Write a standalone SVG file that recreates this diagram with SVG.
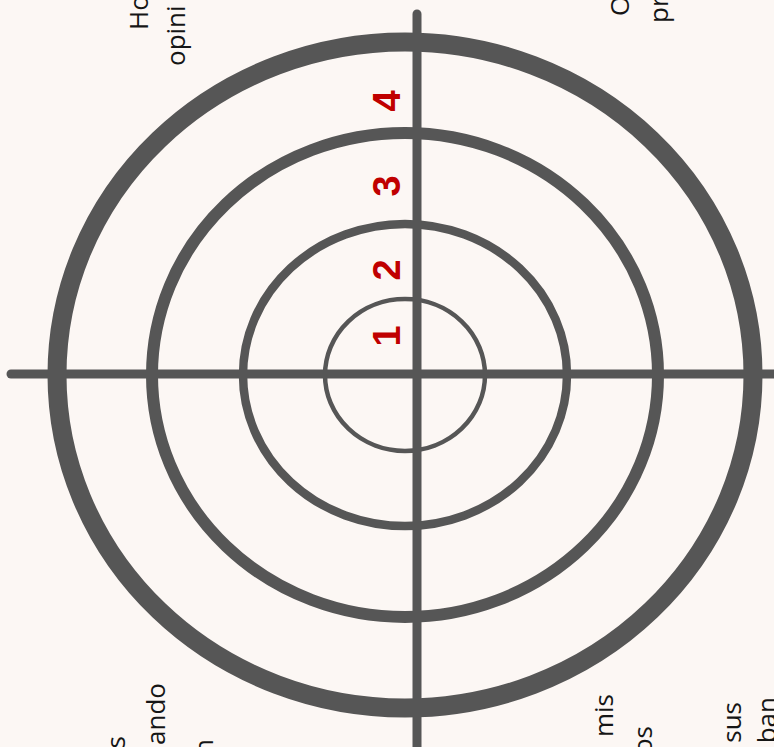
<svg xmlns="http://www.w3.org/2000/svg" width="774" height="747" viewBox="0 0 774 747">
  <style>
    .ring { fill: none; stroke: #565656; }
    .axis { stroke: #565656; stroke-width: 9; stroke-linecap: round; }
    .num { font-family: "Liberation Sans", Arial, sans-serif; font-weight: bold; font-size: 38px; fill: #c00000; text-anchor: middle; }
    .lbl { font-family: "Open Sans", "Liberation Sans", sans-serif; font-size: 26px; fill: #151515; }
  </style>
  <rect width="774" height="747" fill="#fcf7f4"/>
  <g id="rings">
    <ellipse id="ring4" class="ring" cx="405" cy="375" rx="348" ry="333" stroke-width="19"/>
    <ellipse id="ring3" class="ring" cx="405" cy="375" rx="253" ry="242" stroke-width="12"/>
    <ellipse id="ring2" class="ring" cx="405" cy="375" rx="162" ry="151" stroke-width="8.5"/>
    <ellipse id="ring1" class="ring" cx="405" cy="375" rx="80" ry="76" stroke-width="4.5"/>
  </g>
  <g id="axes">
    <line class="axis" x1="417" y1="14" x2="417" y2="760"/>
    <line class="axis" x1="11" y1="374" x2="790" y2="374"/>
  </g>
  <g id="numbers">
    <text class="num" transform="translate(400,101) rotate(-90)">4</text>
    <text class="num" transform="translate(400,186) rotate(-90)">3</text>
    <text class="num" transform="translate(400,270) rotate(-90)">2</text>
    <text class="num" transform="translate(400,336) rotate(-90)">1</text>
  </g>
  <g id="labels">
    <text class="lbl" transform="translate(148,30) rotate(-90)">Ho</text>
    <text class="lbl" transform="translate(185,66) rotate(-90)">opini</text>
    <text class="lbl" transform="translate(629,16) rotate(-90)">O</text>
    <text class="lbl" transform="translate(668,23) rotate(-90)">pr</text>
    <text class="lbl" transform="translate(125,736) rotate(-90)" text-anchor="end">ás</text>
    <text class="lbl" transform="translate(165,683) rotate(-90)" text-anchor="end">ando</text>
    <text class="lbl" transform="translate(213,739) rotate(-90)" text-anchor="end">n</text>
    <text class="lbl" transform="translate(613,694) rotate(-90)" text-anchor="end">mis</text>
    <text class="lbl" transform="translate(652,726) rotate(-90)" text-anchor="end">os</text>
    <text class="lbl" transform="translate(741,702) rotate(-90)" text-anchor="end">sus</text>
    <text class="lbl" transform="translate(776,697) rotate(-90)" text-anchor="end">ban</text>
  </g>
</svg>
